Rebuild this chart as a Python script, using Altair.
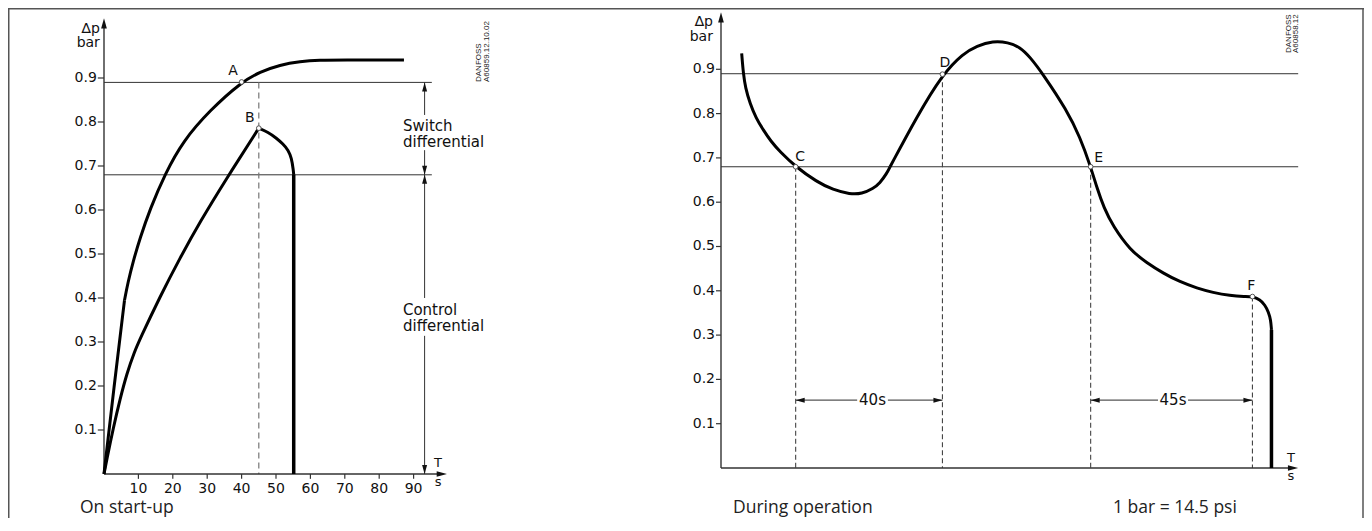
import altair as alt
import pandas as pd

# ---------------- data ----------------
# Left panel "On start-up" (t in s, v in bar)
left_upper_t = [0, 2.91, 5.96, 6.98, 8.43, 10.47, 13.37, 17.73, 22.97, 30.81, 40.0, 45.35, 51.16, 56.98, 62.79, 68.6, 87.2]
left_upper_v = [0, 0.198, 0.395, 0.436, 0.482, 0.536, 0.602, 0.682, 0.757, 0.827, 0.891, 0.914, 0.930, 0.9375, 0.9405, 0.941, 0.941]
left_upper_kinks = [5.96]
left_lower_t = [0, 0.785, 2.70, 4.65, 6.69, 8.72, 10.47, 16.28, 22.09, 27.91, 35.17, 45.0,
                47.67, 50.2, 52.03, 53.58, 54.51, 55.03, 55.15]
left_lower_v = [0, 0.0318, 0.1045, 0.170, 0.2295, 0.275, 0.307, 0.403, 0.491, 0.573, 0.666, 0.786,
                0.777, 0.763, 0.750, 0.736, 0.718, 0.691, 0.680]
left_lower_kinks = [45.0]
left_drop_t = [55.15, 55.15]
left_drop_v = [0.680, 0.0]
left_points = ["A", "B"]
left_points_t = [40.0, 45.0]
left_points_v = [0.891, 0.786]

# Right panel "During operation"
right_t = [5.65, 6.09, 6.69, 7.92, 9.56, 11.56, 13.66, 16.12, 20.4, 26.15, 30.6, 35.25, 38.5, 41.6, 43.4, 45.3, 46.2,
           53.5, 60.5, 66.2, 69.9, 74.3, 78.4, 81.7, 84.4, 88.0, 94.45, 98.09, 101.0, 102.73, 104.64, 107.1,
           111.75, 116.39, 120.77, 125.41, 130.05, 134.43, 139.07, 143.17, 145.2, 147.3, 148.6, 149.6, 150.2, 150.4]
right_v = [0.936, 0.891, 0.858, 0.823, 0.790, 0.763, 0.737, 0.714, 0.680, 0.646, 0.628, 0.618, 0.619, 0.631, 0.643,
           0.665, 0.680, 0.793, 0.889, 0.936, 0.953, 0.964, 0.961, 0.950, 0.928, 0.889, 0.808, 0.747, 0.680, 0.632,
           0.587, 0.546, 0.492, 0.463, 0.440, 0.420, 0.406, 0.396, 0.389, 0.387, 0.387, 0.380, 0.368, 0.352, 0.334,
           0.312]
right_kinks = [46.2]
right_drop_t = [150.4, 150.4]
right_drop_v = [0.312, 0.0]
right_points = ["C", "D", "E", "F"]
right_points_t = [20.4, 60.5, 101.0, 145.2]
right_points_v = [0.680, 0.889, 0.680, 0.387]

switch_levels = [0.89, 0.68]
y_ticks = [0.1, 0.2, 0.3, 0.4, 0.5, 0.6, 0.7, 0.8, 0.9]
y_tick_labels = ["0.1", "0.2", "0.3", "0.4", "0.5", "0.6", "0.7", "0.8", "0.9"]
x_ticks_left = [10, 20, 30, 40, 50, 60, 70, 80, 90]
x_tick_labels_left = ["10", "20", "30", "40", "50", "60", "70", "80", "90"]
intervals = ["40s", "45s"]

# ---------------- layout ----------------
W, H = 1356, 510
FONT = "DejaVu Sans"
CAP_FONT = "Open Sans"
INK = "#111"

SC = {
    "L": (alt.Scale(domain=[-27.907, 366.279], nice=False, zero=False),
          alt.Scale(domain=[-0.1, 1.05909], nice=False, zero=False)),
    "R": (alt.Scale(domain=[-194.809, 175.683], nice=False, zero=False),
          alt.Scale(domain=[-0.11287, 1.03837], nice=False, zero=False)),
}


def X(p, f="t"):
    return alt.X(f"{f}:Q", scale=SC[p][0], axis=None)


def Y(p, f="v"):
    return alt.Y(f"{f}:Q", scale=SC[p][1], axis=None)


def segs(p, rows, **style):
    df = pd.DataFrame(rows, columns=["x0", "x1", "y0", "y1"])
    return alt.Chart(df).mark_rule(**style).encode(
        x=X(p, "x0"), x2=alt.X2("x1:Q"), y=Y(p, "y0"), y2=alt.Y2("y1:Q"))


def texts(p, rows, **style):
    df = pd.DataFrame(rows, columns=["t", "v", "label"])
    return alt.Chart(df).mark_text(**style).encode(x=X(p), y=Y(p), text="label:N")


def curve(p, ts, vs, kinks=(), interp="basis", **style):
    # split the polyline at sharp corners so each smooth piece is interpolated on its own
    rows, seg, i = [], 0, 0
    for t, v in zip(ts, vs):
        rows.append((t, v, seg, i))
        i += 1
        if t in kinks:
            seg += 1
            rows.append((t, v, seg, i))
            i += 1
    df = pd.DataFrame(rows, columns=["t", "v", "seg", "i"])
    return alt.Chart(df).mark_line(interpolate=interp, strokeJoin="round", **style).encode(
        x=X(p), y=Y(p), detail="seg:N", order="i:Q")


UP = "M0,0L-0.5,1.8L0.5,1.8Z"
DOWN = "M0,0L-0.5,-1.8L0.5,-1.8Z"
RIGHT = "M0,0L-1.8,-0.5L-1.8,0.5Z"
LEFT = "M0,0L1.8,-0.5L1.8,0.5Z"


def arrows(p, rows, size=100):
    df = pd.DataFrame(rows, columns=["t", "v", "shape"])
    return alt.Chart(df).mark_point(filled=True, color=INK, opacity=1, size=size).encode(
        x=X(p), y=Y(p), shape=alt.Shape("shape:N", scale=None))


def markers(p, ts, vs):
    df = pd.DataFrame({"t": ts, "v": vs})
    return alt.Chart(df).mark_point(filled=True, fill="white", stroke="#555", strokeWidth=1,
                                    opacity=1, size=22).encode(x=X(p), y=Y(p))


one = pd.DataFrame({"a": [0]})
layers = []

# frame
frame_style = dict(color="#555", strokeWidth=1.5)
layers.append(alt.Chart(one).mark_rule(**frame_style).encode(
    x=alt.value(0.75), y=alt.value(0), y2=alt.value(H)))
layers.append(alt.Chart(one).mark_rule(**frame_style).encode(
    x=alt.value(1355), y=alt.value(0), y2=alt.value(H)))
layers.append(alt.Chart(one).mark_rule(**frame_style).encode(
    x=alt.value(0), x2=alt.value(1356), y=alt.value(0.75)))

# ---------- LEFT PANEL ----------
P = "L"
layers.append(segs(P, [[0, 95.3, lv, lv] for lv in switch_levels], color="#333", strokeWidth=1))
layers.append(segs(P, [[45.0, 45.0, 0.89, 0.0]], color="#777", strokeWidth=1.2, strokeDash=[6, 4]))
# axes
layers.append(segs(P, [[0, 0, 0, 1.02], [0, 98.0, 0, 0]], color="#333", strokeWidth=1.4))
layers.append(segs(P, [[-1.8, 0, tv, tv] for tv in y_ticks], color="#333", strokeWidth=1.2))
layers.append(segs(P, [[tt, tt, 0, -0.011] for tt in x_ticks_left], color="#333", strokeWidth=1.2))
layers.append(texts(P, [[-1.8, tv, lab] for tv, lab in zip(y_ticks, y_tick_labels)],
                    font=FONT, fontSize=14, align="right", baseline="middle", dx=-1, color=INK))
layers.append(texts(P, [[tt, -0.033, lab] for tt, lab in zip(x_ticks_left, x_tick_labels_left)],
                    font=FONT, fontSize=14, align="center", baseline="middle", color=INK))
layers.append(texts(P, [[-1.2, 1.011, "∆p"], [-1.2, 0.979, "bar"]],
                    font=FONT, fontSize=14, align="right", baseline="middle", color=INK))
layers.append(texts(P, [[97.1, 0.025, "T"], [97.1, -0.018, "s"]],
                    font=FONT, fontSize=13, align="center", baseline="middle", color=INK))
# differential arrows
layers.append(segs(P, [[93.2, 93.2, 0.89, 0.816], [93.2, 93.2, 0.736, 0.68],
                       [93.2, 93.2, 0.68, 0.40], [93.2, 93.2, 0.314, 0.0]],
                   color="#333", strokeWidth=1))
layers.append(texts(P, [[86.9, 0.791, "Switch"], [86.9, 0.755, "differential"],
                        [86.9, 0.373, "Control"], [86.9, 0.336, "differential"]],
                    font=FONT, fontSize=15, align="left", baseline="middle", color=INK))
# curves
layers.append(curve(P, left_upper_t, left_upper_v, left_upper_kinks, color="black", strokeWidth=3))
layers.append(curve(P, left_lower_t, left_lower_v, left_lower_kinks, color="black", strokeWidth=3))
layers.append(curve(P, left_drop_t, left_drop_v, interp="linear", color="black", strokeWidth=3.5))
layers.append(markers(P, left_points_t, left_points_v))
layers.append(texts(P, [[37.5, 0.916, left_points[0]], [42.4, 0.809, left_points[1]]],
                    font=FONT, fontSize=14, align="center", baseline="middle", color=INK))
layers.append(arrows(P, [[0, 1.036, UP], [99.7, 0, RIGHT]], size=130))
layers.append(arrows(P, [[93.2, 0.89, UP], [93.2, 0.68, DOWN], [93.2, 0.68, UP], [93.2, 0.0, DOWN]]))

# ---------- RIGHT PANEL ----------
P = "R"
layers.append(segs(P, [[0, 157.7, lv, lv] for lv in switch_levels], color="#333", strokeWidth=1))
layers.append(segs(P, [[pt, pt, pv, 0.0] for pt, pv in zip(right_points_t, right_points_v)],
                   color="#444", strokeWidth=1.1, strokeDash=[5, 3]))
layers.append(segs(P, [[0, 0, 0, 1.015], [0, 156.0, 0, 0]], color="#333", strokeWidth=1.4))
layers.append(segs(P, [[-1.37, 0, tv, tv] for tv in y_ticks], color="#333", strokeWidth=1.2))
layers.append(texts(P, [[-1.37, tv, lab] for tv, lab in zip(y_ticks, y_tick_labels)],
                    font=FONT, fontSize=14, align="right", baseline="middle", dx=-1, color=INK))
layers.append(texts(P, [[-2.2, 1.007, "∆p"], [-2.2, 0.973, "bar"]],
                    font=FONT, fontSize=14, align="right", baseline="middle", color=INK))
layers.append(texts(P, [[155.7, 0.0226, "T"], [155.7, -0.018, "s"]],
                    font=FONT, fontSize=13, align="center", baseline="middle", color=INK))
# interval dimensions
layers.append(segs(P, [[20.4, 37.2, 0.153, 0.153], [45.6, 60.5, 0.153, 0.153],
                       [101.0, 119.4, 0.153, 0.153], [127.6, 145.2, 0.153, 0.153]],
                   color="#555", strokeWidth=1.2))
layers.append(texts(P, [[41.4, 0.153, intervals[0]], [123.5, 0.153, intervals[1]]],
                    font=FONT, fontSize=15, align="center", baseline="middle", color=INK))
layers.append(arrows(P, [[20.4, 0.153, LEFT], [60.5, 0.153, RIGHT],
                         [101.0, 0.153, LEFT], [145.2, 0.153, RIGHT]]))
layers.append(curve(P, right_t, right_v, right_kinks, color="black", strokeWidth=3))
layers.append(curve(P, right_drop_t, right_drop_v, interp="linear", color="black", strokeWidth=3.5))
layers.append(markers(P, right_points_t, right_points_v))
layers.append(texts(P, [[21.1, 0.703, right_points[0]], [60.5, 0.914, right_points[1]],
                        [102.8, 0.700, right_points[2]], [144.6, 0.410, right_points[3]]],
                    font=FONT, fontSize=14, align="left", baseline="middle", dx=-3, color=INK))
layers.append(arrows(P, [[0, 1.029, UP], [157.7, 0, RIGHT]], size=130))

# ---------- captions & drawing ids ----------
cap = dict(font=CAP_FONT, fontSize=17.5, align="left", baseline="alphabetic", color="#222")
layers.append(alt.Chart(one).mark_text(text="On start-up", **cap).encode(x=alt.value(72), y=alt.value(505)))
layers.append(alt.Chart(one).mark_text(text="During operation", **cap).encode(x=alt.value(725), y=alt.value(505)))
layers.append(alt.Chart(one).mark_text(text="1 bar = 14.5 psi", **cap).encode(x=alt.value(1105), y=alt.value(505)))
idst = dict(font="Liberation Sans", fontSize=8, angle=270, align="left", baseline="middle", color="#222")
layers.append(alt.Chart(one).mark_text(text="DANFOSS", **idst).encode(x=alt.value(471), y=alt.value(74)))
layers.append(alt.Chart(one).mark_text(text="A60859.12.10.02", **idst).encode(x=alt.value(479), y=alt.value(74)))
layers.append(alt.Chart(one).mark_text(text="DANFOSS", **idst).encode(x=alt.value(1281), y=alt.value(45)))
layers.append(alt.Chart(one).mark_text(text="A60858.12", **idst).encode(x=alt.value(1288), y=alt.value(45)))

chart = (
    alt.layer(*layers)
    .resolve_scale(x="independent", y="independent")
    .properties(width=W, height=H, autosize=alt.AutoSizeParams(type="none"), padding=0)
    .configure_view(stroke=None)
)

chart.save("out.html", embed_options={"renderer": "svg", "actions": False})
